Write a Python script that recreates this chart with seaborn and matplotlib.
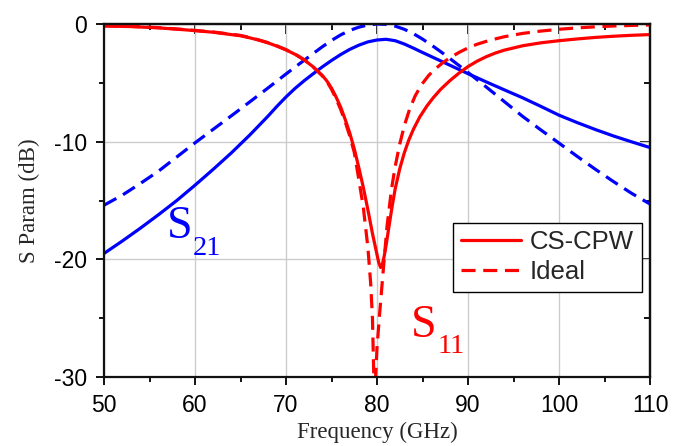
import numpy as np
import matplotlib.pyplot as plt
import seaborn as sns
import pandas as pd
from matplotlib.lines import Line2D
from matplotlib.ticker import MultipleLocator

# S21, both versions share one frequency grid (GHz)
freq_s21 = [50, 52, 54, 56, 58, 60, 62, 64, 66, 68, 69, 70, 71, 72, 73, 74, 75, 76, 77, 78,
            79, 80, 81, 82, 83, 84, 85, 86, 87, 88, 89, 90, 92, 94, 96, 98, 100, 102, 104,
            106, 108, 110]
s21_cs = [-19.5, -18.45, -17.35, -16.2, -15.0, -13.7, -12.35, -10.95, -9.45, -7.85, -7.0,
          -6.2, -5.47, -4.82, -4.22, -3.64, -3.1, -2.6, -2.16, -1.8, -1.52, -1.36, -1.3,
          -1.42, -1.7, -2.05, -2.42, -2.78, -3.14, -3.5, -3.86, -4.22, -4.92, -5.6, -6.27,
          -7.0, -7.75, -8.38, -8.97, -9.52, -10.02, -10.5]
s21_ideal = [-15.4, -14.55, -13.55, -12.5, -11.3, -10.1, -8.95, -7.8, -6.63, -5.45, -4.85,
             -4.25, -3.66, -3.08, -2.5, -1.93, -1.4, -0.93, -0.55, -0.27, -0.08, 0.0, -0.03,
             -0.18, -0.45, -0.82, -1.28, -1.8, -2.35, -2.93, -3.52, -4.12, -5.35, -6.6,
             -7.85, -9.0, -10.12, -11.25, -12.35, -13.4, -14.4, -15.3]

# S11, CS-CPW
freq_s11_cs = [50, 53, 56, 59, 62, 65, 66, 67, 68, 69, 70, 71, 72, 73, 74, 74.5, 75, 75.5,
               76, 76.5, 77, 77.5, 78, 78.5, 79, 79.5, 80, 80.2, 80.4, 80.6, 80.8, 81.0,
               81.2, 81.6, 82, 82.5, 83, 83.5, 84, 84.7, 85.5, 86.2, 87, 88, 89, 90, 91, 92,
               93, 94, 96, 98, 100, 102, 104, 106, 108, 110]
s11_cs = [-0.17, -0.22, -0.33, -0.5, -0.7, -1.0, -1.17, -1.37, -1.6, -1.88, -2.2, -2.58,
          -3.05, -3.65, -4.38, -4.85, -5.45, -6.2, -7.05, -8.1, -9.25, -10.6, -12.2, -13.9,
          -15.8, -17.8, -19.6, -20.3, -20.7, -20.4, -19.7, -18.8, -17.8, -15.8, -14.0,
          -12.3, -10.95, -9.85, -8.95, -7.9, -6.95, -6.25, -5.55, -4.82, -4.18, -3.62,
          -3.16, -2.78, -2.47, -2.22, -1.85, -1.6, -1.42, -1.27, -1.14, -1.04, -0.96, -0.9]

# S11, ideal line
freq_s11_ideal = [50, 53, 56, 59, 62, 65, 66, 67, 68, 69, 70, 71, 72, 73, 74, 74.5, 75,
                  75.5, 76, 76.5, 77, 77.5, 78, 78.5, 79, 79.3, 79.5, 79.65, 79.75, 79.85,
                  80.0, 80.3, 80.7, 81.1, 81.6, 82, 82.5, 83, 83.6, 84.2, 84.9, 85.7, 86.5,
                  87.3, 88, 89, 90, 91, 92.4, 94, 96, 98, 100, 102, 104, 106, 108, 110]
s11_ideal = [-0.15, -0.2, -0.31, -0.48, -0.68, -0.97, -1.15, -1.35, -1.58, -1.86, -2.18,
             -2.56, -3.04, -3.66, -4.42, -4.9, -5.55, -6.35, -7.25, -8.3, -9.5, -10.9,
             -13.2, -15.6, -19.0, -22.0, -25.0, -30.0, -40.0, -30.0, -27.5, -24.5, -20.8,
             -17.2, -14.0, -12.1, -10.2, -8.65, -7.2, -6.1, -5.15, -4.35, -3.75, -3.25,
             -2.88, -2.42, -2.03, -1.72, -1.38, -1.08, -0.8, -0.6, -0.45, -0.33, -0.24,
             -0.17, -0.12, -0.08]

sns.set_theme(style="ticks")
plt.rcParams['font.family'] = ['Liberation Sans', 'DejaVu Sans']
plt.rcParams['axes.unicode_minus'] = False

RED = '#ff0000'
BLUE = '#0000ff'
LW = 2.3
DASH = (0, (4.4, 2.4))

fig = plt.figure(figsize=(6.75, 4.46), dpi=100)
ax = fig.add_axes([104 / 675, 1 - 377 / 446, 546 / 675, 353 / 446])

df21 = pd.DataFrame({'f': freq_s21, 'cs': s21_cs, 'ideal': s21_ideal})
df11c = pd.DataFrame({'f': freq_s11_cs, 'db': s11_cs})
df11i = pd.DataFrame({'f': freq_s11_ideal, 'db': s11_ideal})

sns.lineplot(data=df21, x='f', y='ideal', ax=ax, color=BLUE, lw=LW, linestyle=DASH)
sns.lineplot(data=df21, x='f', y='cs', ax=ax, color=BLUE, lw=LW)
sns.lineplot(data=df11i, x='f', y='db', ax=ax, color=RED, lw=LW, linestyle=DASH)
sns.lineplot(data=df11c, x='f', y='db', ax=ax, color=RED, lw=LW)

ax.set_xlim(50, 110)
ax.set_ylim(-30, 0)
ax.xaxis.set_major_locator(MultipleLocator(10))
ax.xaxis.set_minor_locator(MultipleLocator(5))
ax.yaxis.set_major_locator(MultipleLocator(10))
ax.yaxis.set_minor_locator(MultipleLocator(5))
ax.grid(True, which='major', color='#cccccc', lw=1.0)
ax.set_axisbelow(True)

for s in ax.spines.values():
    s.set_visible(True)
    s.set_linewidth(1.6)
    s.set_color('#111111')

ax.tick_params(which='both', direction='out', colors='#111111', width=1.4,
               labelsize=16.5, labelcolor='black')
ax.tick_params(which='major', length=6, pad=6)
ax.tick_params(which='minor', length=3.5)

# mirrored ticks on top and right, pointing in
sec_x = ax.secondary_xaxis('top')
sec_x.set_xticks(np.arange(50, 111, 10))
sec_x.xaxis.set_minor_locator(MultipleLocator(5))
sec_x.tick_params(which='both', direction='in', labeltop=False, width=1.4, colors='#111111')
sec_x.tick_params(which='major', length=7)
sec_x.tick_params(which='minor', length=4)
sec_x.spines['top'].set_linewidth(1.6)
sec_y = ax.secondary_yaxis('right')
sec_y.set_yticks(np.arange(-30, 1, 10))
sec_y.yaxis.set_minor_locator(MultipleLocator(5))
sec_y.tick_params(which='both', direction='in', labelright=False, width=1.4, colors='#111111')
sec_y.tick_params(which='major', length=7)
sec_y.tick_params(which='minor', length=4)
sec_y.spines['right'].set_linewidth(1.6)

ax.set_xlabel('Frequency (GHz)', family='Liberation Serif', fontsize=16.5, labelpad=4)
ax.set_ylabel('S Param (dB)', family='Liberation Serif', fontsize=16.5, labelpad=10)

# curve labels
serif = ['Liberation Serif', 'DejaVu Serif']
ax.text(56.9, -18.2, 'S', color=BLUE, family=serif, fontsize=33, va='baseline')
ax.text(59.8, -19.6, '21', color=BLUE, family=serif, fontsize=20.5, va='baseline')
ax.text(83.7, -26.6, 'S', color=RED, family=serif, fontsize=33, va='baseline')
ax.text(86.6, -27.95, '11', color=RED, family=serif, fontsize=20.5, va='baseline')

handles = [Line2D([], [], color=RED, lw=LW),
           Line2D([], [], color=RED, lw=LW, linestyle=DASH)]
leg = ax.legend(handles, ['CS-CPW', 'Ideal'], loc='upper right',
                bbox_to_anchor=(0.985, 0.437), fontsize=18.5, frameon=True,
                fancybox=False, edgecolor='black', framealpha=1,
                handlelength=2.35, handletextpad=0.35, borderpad=0.3,
                labelspacing=0.22, borderaxespad=0)
leg.get_frame().set_linewidth(1.0)

fig.savefig('out.png', dpi=100)
